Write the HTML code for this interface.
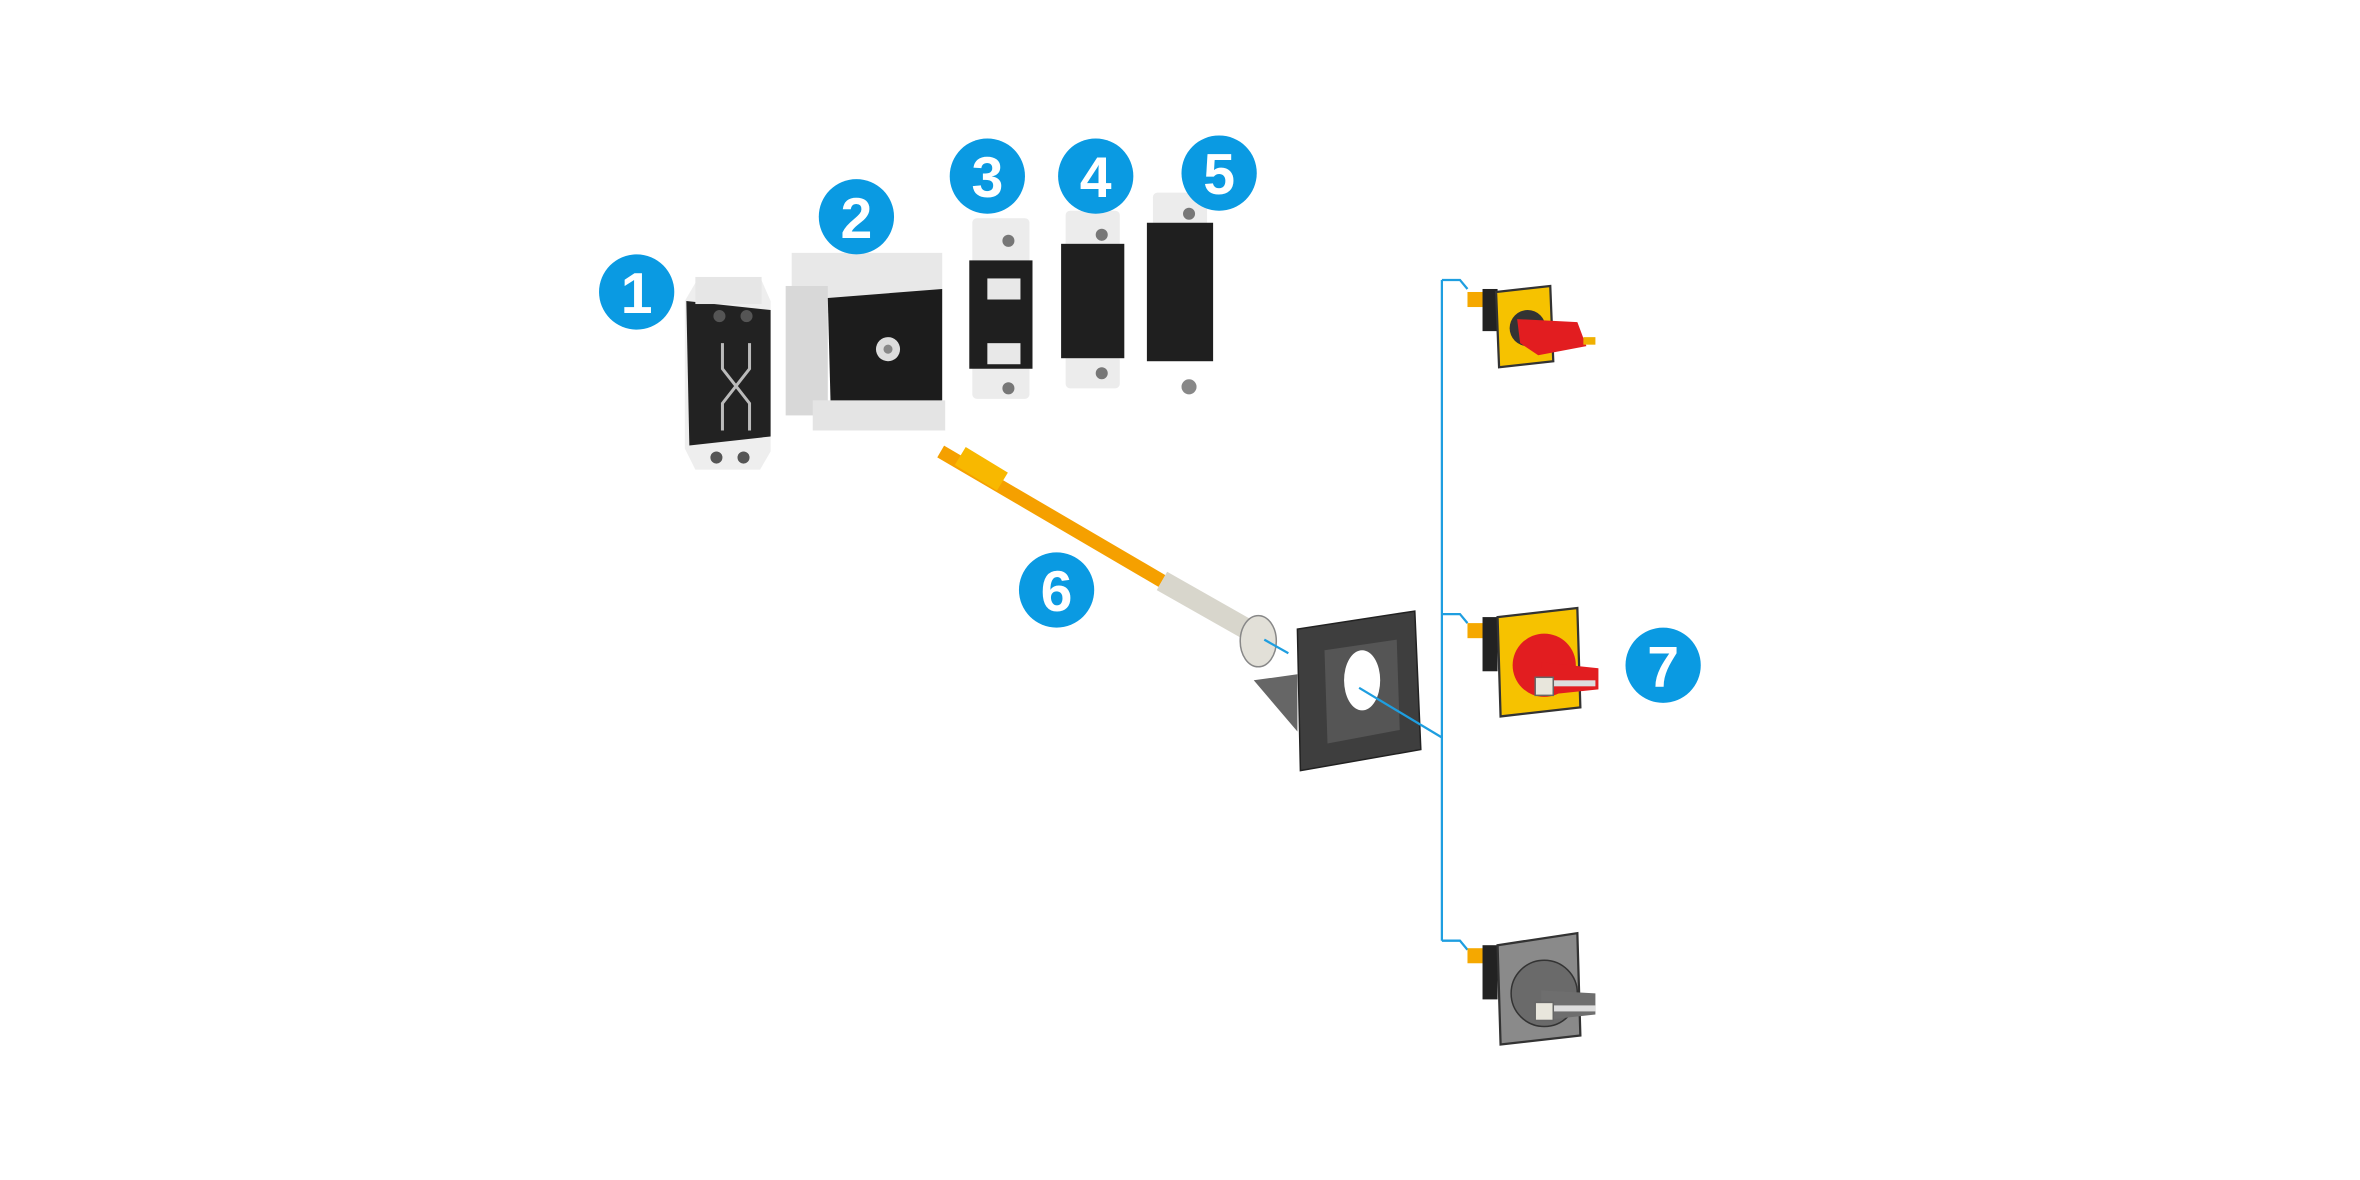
<!DOCTYPE html>
<html><head><meta charset="utf-8"><style>
html,body{margin:0;padding:0;background:#fff;}
svg{display:block;}
.n{font-family:"Liberation Sans",sans-serif;font-weight:bold;font-size:38px;fill:#fff;text-anchor:middle;}
</style></head><body>
<svg width="2360" height="1180" viewBox="0 0 1568 784" xmlns="http://www.w3.org/2000/svg">
<rect width="1568" height="784" fill="#fff"/>
<!-- Part 1 -->
<polygon points="462,188 505,184 512,200 512,300 505,312 462,312 455,298 455,200" fill="#eee"/>
<polygon points="456,200 512,206 512,290 458,296" fill="#222"/>
<rect x="462" y="184" width="44" height="18" fill="#e6e6e6"/>
<circle cx="478" cy="210" r="4" fill="#555"/><circle cx="496" cy="210" r="4" fill="#555"/>
<circle cx="476" cy="304" r="4" fill="#555"/><circle cx="494" cy="304" r="4" fill="#555"/>
<path d="M480 228 L480 245 L498 268 L498 286 M498 228 L498 245 L480 268 L480 286" stroke="#bbb" stroke-width="2" fill="none"/>
<!-- Part 2 -->
<rect x="526" y="168" width="100" height="40" fill="#e8e8e8"/>
<rect x="522" y="190" width="28" height="86" fill="#d8d8d8"/>
<polygon points="550,198 626,192 626,266 552,274" fill="#1c1c1c"/>
<circle cx="590" cy="232" r="8" fill="#ddd"/><circle cx="590" cy="232" r="3" fill="#888"/>
<rect x="540" y="266" width="88" height="20" fill="#e4e4e4"/>
<!-- Part 3 -->
<rect x="646" y="145" width="38" height="120" rx="3" fill="#ececec"/>
<rect x="644" y="173" width="42" height="72" fill="#1f1f1f"/>
<rect x="656" y="185" width="22" height="14" fill="#e8e8e8"/>
<rect x="656" y="228" width="22" height="14" fill="#e8e8e8"/>
<circle cx="670" cy="160" r="4" fill="#777"/><circle cx="670" cy="258" r="4" fill="#777"/>
<!-- Part 4 -->
<rect x="708" y="140" width="36" height="118" rx="3" fill="#ececec"/>
<rect x="705" y="162" width="42" height="76" fill="#1f1f1f"/>
<circle cx="732" cy="156" r="4" fill="#777"/><circle cx="732" cy="248" r="4" fill="#777"/>
<!-- Part 5 -->
<rect x="766" y="128" width="36" height="110" rx="3" fill="#ececec"/>
<rect x="762" y="148" width="44" height="92" fill="#1f1f1f"/>
<circle cx="790" cy="142" r="4" fill="#777"/><circle cx="790" cy="257" r="5" fill="#888"/>
<!-- Shaft 6 -->
<line x1="625" y1="300" x2="772" y2="386" stroke="#f5a000" stroke-width="9"/>
<line x1="638" y1="303" x2="666" y2="320" stroke="#f8b800" stroke-width="14"/>
<line x1="772" y1="386" x2="832" y2="420" stroke="#d8d6cc" stroke-width="14"/>
<ellipse cx="836" cy="426" rx="12" ry="17" fill="#e2e0d8" stroke="#888" stroke-width="1"/>
<line x1="840" y1="425" x2="856" y2="434" stroke="#1e9ee0" stroke-width="1.5"/>
<!-- Frame -->
<polygon points="833,452 862,448 862,486" fill="#666"/>
<polygon points="862,418 940,406 944,498 864,512" fill="#3e3e3e" stroke="#222" stroke-width="1"/>
<polygon points="880,432 928,425 930,485 882,494" fill="#555"/>
<ellipse cx="905" cy="452" rx="12" ry="20" fill="#fff"/>
<!-- Blue connectors -->
<g stroke="#1e9ee0" stroke-width="1.5" fill="none">
<line x1="958" y1="186" x2="958" y2="625"/>
<polyline points="958,186 970,186 975,192"/>
<polyline points="958,408 970,408 975,414"/>
<polyline points="958,625 970,625 975,631"/>
<line x1="958" y1="490" x2="903" y2="457"/>
</g>
<!-- Switch top -->
<rect x="975" y="194" width="14" height="10" fill="#f5a800"/>
<rect x="985" y="192" width="10" height="28" fill="#222"/>
<polygon points="994,194 1030,190 1032,240 996,244" fill="#f6c200" stroke="#333" stroke-width="1.5"/>
<circle cx="1015" cy="218" r="12" fill="#333"/>
<polygon points="1008,212 1048,214 1054,230 1022,236 1010,228" fill="#e21d20"/>
<rect x="1052" y="224" width="8" height="5" fill="#f0b000"/>
<!-- Switch middle -->
<rect x="975" y="414" width="14" height="10" fill="#f5a800"/>
<rect x="985" y="410" width="10" height="36" fill="#222"/>
<polygon points="995,410 1048,404 1050,470 997,476" fill="#f6c200" stroke="#333" stroke-width="1.5"/>
<circle cx="1026" cy="442" r="21" fill="#e21d20"/>
<polygon points="1024,440 1062,444 1062,458 1024,462" fill="#e21d20"/>
<rect x="1026" y="452" width="34" height="4" fill="#ddd"/>
<rect x="1020" y="450" width="12" height="12" fill="#e8e6dc" stroke="#666" stroke-width="1"/>
<!-- Switch bottom -->
<rect x="975" y="630" width="14" height="10" fill="#f5a800"/>
<rect x="985" y="628" width="10" height="36" fill="#222"/>
<polygon points="995,628 1048,620 1050,688 997,694" fill="#8a8a8a" stroke="#333" stroke-width="1.5"/>
<circle cx="1026" cy="660" r="22" fill="#6a6a6a" stroke="#333" stroke-width="1"/>
<polygon points="1024,658 1060,660 1060,674 1024,678" fill="#6e6e6e"/>
<rect x="1028" y="668" width="32" height="4" fill="#ddd"/>
<rect x="1020" y="666" width="12" height="12" fill="#e8e6dc" stroke="#666" stroke-width="1"/>
<!-- Number badges -->
<g fill="#0a9ae2">
<circle cx="423" cy="194" r="25"/><circle cx="569" cy="144" r="25"/>
<circle cx="656" cy="117" r="25"/><circle cx="728" cy="117" r="25"/>
<circle cx="810" cy="115" r="25"/><circle cx="702" cy="392" r="25"/>
<circle cx="1105" cy="442" r="25"/>
</g>
<text class="n" x="423" y="208">1</text>
<text class="n" x="569" y="158">2</text>
<text class="n" x="656" y="131">3</text>
<text class="n" x="728" y="131">4</text>
<text class="n" x="810" y="129">5</text>
<text class="n" x="702" y="406">6</text>
<text class="n" x="1105" y="456">7</text>
</svg>
</body></html>
